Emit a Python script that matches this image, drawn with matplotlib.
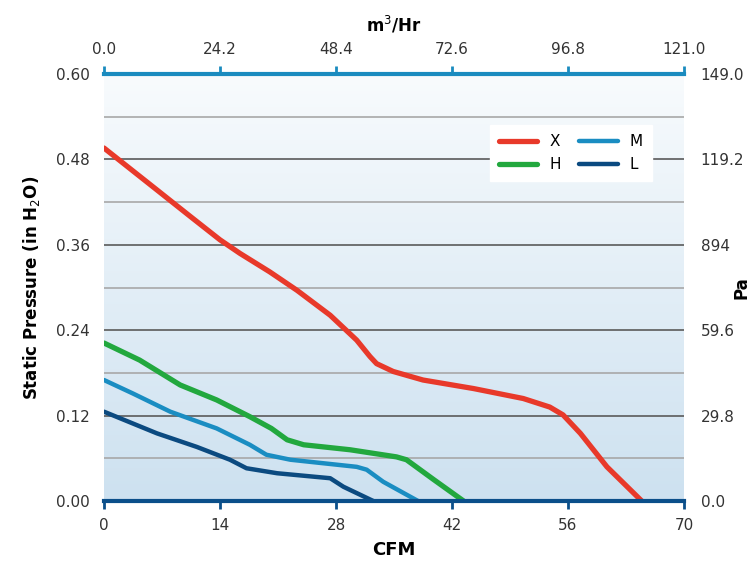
import numpy as np
import matplotlib.pyplot as plt
from matplotlib.colors import LinearSegmentedColormap

# fan curves: CFM vs static pressure (in H2O)
x_cfm = [0, 6.4, 10.4, 14.0, 16.4, 20.0, 23.3, 27.3, 30.5, 32.1, 32.9, 34.9, 38.5,
         44.6, 50.6, 53.8, 55.4, 57.5, 60.7, 64.9]
x_sp = [0.496, 0.437, 0.400, 0.367, 0.348, 0.322, 0.296, 0.261, 0.226, 0.203, 0.193,
        0.182, 0.170, 0.158, 0.144, 0.132, 0.121, 0.095, 0.048, 0.0]

h_cfm = [0, 4.3, 9.2, 13.6, 17.6, 20.2, 22.1, 24.1, 29.7, 35.3, 36.5, 39.8, 43.4]
h_sp = [0.222, 0.198, 0.163, 0.142, 0.1185, 0.102, 0.086, 0.079, 0.072, 0.062,
        0.058, 0.030, 0.0]

m_cfm = [0, 3.5, 8.0, 13.6, 17.6, 19.6, 22.5, 30.5, 31.7, 33.7, 37.9]
m_sp = [0.170, 0.151, 0.1255, 0.102, 0.079, 0.065, 0.058, 0.048, 0.044, 0.027, 0.0]

l_cfm = [0, 6.4, 11.2, 15.2, 17.2, 20.9, 27.3, 28.9, 32.5]
l_sp = [0.1255, 0.095, 0.076, 0.058, 0.046, 0.039, 0.032, 0.020, 0.0]

cfm_ticks = [0, 14, 28, 42, 56, 70]
m3_ticks = [0.0, 24.2, 48.4, 72.6, 96.8, 121.0]
sp_ticks = [0.00, 0.12, 0.24, 0.36, 0.48, 0.60]
pa_ticks = [0.0, 29.8, 59.6, 89.4, 119.2, 149.0]
pa_labels = ['0.0', '29.8', '59.6', '894', '119.2', '149.0']

COLORS = {'X': '#e8392a', 'H': '#22a83e', 'M': '#1a8dc2', 'L': '#0b4a80'}
TOP_BLUE = '#1a8bbf'
BOT_BLUE = '#0b4f8a'

fig = plt.figure(figsize=(7.55, 5.70), dpi=100)
ax = fig.add_axes([104 / 755, 69 / 570, 580 / 755, 427 / 570])

# gradient background
cmap = LinearSegmentedColormap.from_list('bg', ['#cde1f0', '#f8fbfd'])
grad = np.linspace(0, 1, 256).reshape(-1, 1)
ax.imshow(grad, extent=[0, 70, 0, 0.6], origin='lower', aspect='auto',
          cmap=cmap, zorder=0)

ax.set_xlim(0, 70)
ax.set_ylim(0, 0.6)

# grid lines
for i, y in enumerate(np.arange(0.06, 0.6, 0.06)):
    major = (i % 2 == 1)
    ax.axhline(y, color='#5a5a5a' if major else '#a8a8a8', lw=1.2, zorder=1)

ax.plot(x_cfm, x_sp, color=COLORS['X'], lw=3.8, label='X', zorder=3,
        solid_capstyle='round', solid_joinstyle='round')
ax.plot(h_cfm, h_sp, color=COLORS['H'], lw=3.8, label='H', zorder=3,
        solid_capstyle='round', solid_joinstyle='round')
ax.plot(m_cfm, m_sp, color=COLORS['M'], lw=3.2, label='M', zorder=3,
        solid_capstyle='round', solid_joinstyle='round')
ax.plot(l_cfm, l_sp, color=COLORS['L'], lw=3.2, label='L', zorder=3,
        solid_capstyle='round', solid_joinstyle='round')

for s in ['top', 'left', 'right']:
    ax.spines[s].set_visible(False)
ax.spines['bottom'].set_color(BOT_BLUE)
ax.spines['bottom'].set_linewidth(3)
ax.spines['bottom'].set_zorder(4)

ax.set_xticks(cfm_ticks)
ax.set_xticklabels([str(t) for t in cfm_ticks])
ax.tick_params(axis='x', direction='out', length=6, width=2, color=BOT_BLUE,
               labelsize=11, pad=6, labelcolor='#333333')
ax.set_yticks(sp_ticks)
ax.set_yticklabels([f'{t:.2f}' for t in sp_ticks])
ax.tick_params(axis='y', length=0, labelsize=11, pad=10, labelcolor='#333333')
ax.set_xlabel('CFM', fontweight='bold', fontsize=13, labelpad=6)
ax.set_ylabel('Static Pressure (in H$_2$O)', fontweight='bold', fontsize=12, labelpad=10)

# top axis m3/Hr
axt = ax.twiny()
axt.set_xlim(0, 121.0)
axt.set_xticks(m3_ticks)
axt.set_xticklabels([f'{t:.1f}' for t in m3_ticks])
axt.tick_params(axis='x', direction='out', length=6, width=2, color=TOP_BLUE,
                labelsize=11, pad=6, labelcolor='#333333')
for s in ['bottom', 'left', 'right']:
    axt.spines[s].set_visible(False)
axt.spines['top'].set_color(TOP_BLUE)
axt.spines['top'].set_linewidth(3)
axt.set_xlabel('m$^3$/Hr', fontweight='bold', fontsize=12, labelpad=8)

# right axis Pa
axr = ax.twinx()
axr.set_ylim(0, 149.0)
axr.set_yticks(pa_ticks)
axr.set_yticklabels(pa_labels)
axr.tick_params(axis='y', length=0, labelsize=11, pad=12, labelcolor='#333333')
for s in ['top', 'bottom', 'left', 'right']:
    axr.spines[s].set_visible(False)
axr.set_ylabel('Pa', fontweight='bold', fontsize=12)
axr.yaxis.set_label_coords(1.084, 0.5)

h, l = ax.get_legend_handles_labels()
leg = axr.legend(h, l, ncol=2, loc='upper right', bbox_to_anchor=(0.945, 0.88),
                 borderaxespad=0, frameon=True, fancybox=False, fontsize=11,
                 handlelength=2.5, columnspacing=1.2, borderpad=0.6)
leg.get_frame().set_facecolor('white')
leg.get_frame().set_edgecolor('white')
leg.get_frame().set_alpha(1)
leg.set_zorder(10)

fig.savefig('out.png', dpi=100)
